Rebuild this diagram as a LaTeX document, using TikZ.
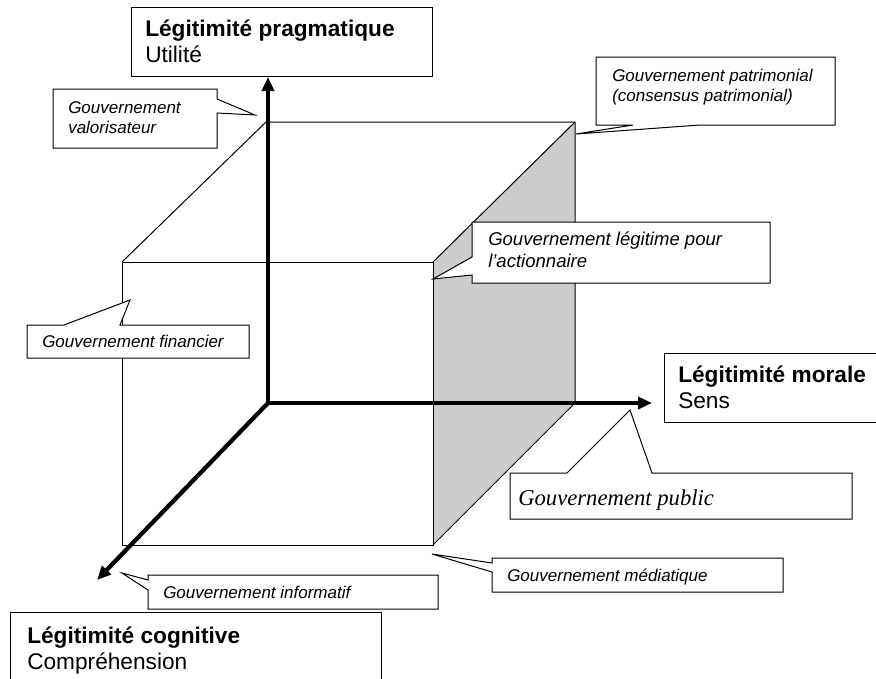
\documentclass[tikz,border=0pt]{standalone}
\usepackage{fontspec}
\setmainfont{Liberation Sans}
\newfontfamily\timesit{Liberation Serif}
\usetikzlibrary{arrows.meta}
\definecolor{facegray}{RGB}{204,204,204}
\tikzset{
  edge/.style={line width=0.75pt},
  axis/.style={line width=3.2pt},
  tip/.style={-{Triangle[length=10.5pt,width=9pt]}},
  bubble/.style={draw,line width=0.75pt,fill=white},
  comment/.style={anchor=north west,inner sep=0pt,align=left,font=\fontsize{12.75}{15}\selectfont\itshape},
  title/.style={anchor=north west,inner sep=0pt,align=left,font=\fontsize{17}{19.5}\selectfont}
}
\begin{document}
\begin{tikzpicture}[x=0.75pt,y=-0.75pt]
  \useasboundingbox (0,0) rectangle (876,679);
  % cube corners
  \coordinate (f1) at (122,262);
  \coordinate (f2) at (433,262);
  \coordinate (f3) at (433,545);
  \coordinate (f4) at (122,545);
  \coordinate (b1) at (266,122);
  \coordinate (b2) at (575,122);
  \coordinate (b3) at (575,403);
  % axes
  \coordinate (o) at (268,403);
  \coordinate (yend) at (268,77);
  \coordinate (xend) at (652,403);
  \coordinate (zend) at (97,580);
  % right face
  \fill[facegray] (f2) -- (b2) -- (b3) -- (f3) -- cycle;
  % cube edges
  \draw[edge] (f1) -- (f2) -- (f3) -- (f4) -- cycle;
  \draw[edge] (f1) -- (b1) -- (b2) -- (b3);
  \draw[edge] (f2) -- (b2);
  \draw[edge] (f3) -- (b3);
  % thick axes
  \draw[axis,{Triangle[length=10.5pt,width=9pt]}-{Triangle[length=10.5pt,width=9pt]}] (yend) -- (o) -- (xend);
  \draw[axis,tip] (o) -- (zend);
  % title boxes
  \draw[edge,fill=white] (131,7) rectangle (432,76);
  \draw[edge,fill=white] (664,353) rectangle (880,422);
  \draw[edge,fill=white] (10,612) rectangle (381,690);
  \node[title] (prag) at (145,20) {\textbf{Légitimité pragmatique}\\Utilité};
  \node[title] (moral) at (678,366) {\textbf{Légitimité morale}\\Sens};
  \node[title] (cogn) at (27,627) {\textbf{Légitimité cognitive}\\Compréhension};
  % callouts
  % valorisateur
  \draw[bubble] (53,89) -- (217,89) -- (217,99) -- (255,115) -- (217,113) -- (217,148) -- (53,148) -- cycle;
  \node[comment] (valo) at (68,101) {Gouvernement\\valorisateur};
  % patrimonial
  \draw[bubble] (596,57) -- (835,57) -- (835,125) -- (700,125) -- (576,134) -- (633,125) -- (596,125) -- cycle;
  \node[comment] (patri) at (612,69) {Gouvernement patrimonial\\(consensus patrimonial)};
  % actionnaire
  \draw[bubble] (472,222) -- (770,222) -- (770,283) -- (472,283) -- (472,275) -- (433,279) -- (472,257) -- cycle;
  \node[comment,font=\fontsize{13.9}{16.5}\selectfont\itshape] (action) at (488,232) {Gouvernement légitime pour\\l’actionnaire};
  % financier
  \draw[bubble] (27,325) -- (64,325) -- (130,300) -- (120,325) -- (249,325) -- (249,358) -- (27,358) -- cycle;
  \node[comment] (finan) at (42,335) {Gouvernement financier};
  % public
  \draw[bubble] (510,473) -- (567,473) -- (630,410) -- (652,473) -- (852,473) -- (852,519) -- (510,519) -- cycle;
  \node[comment,font=\timesit\fontsize{17}{20}\selectfont\itshape] (publ) at (518,489) {Gouvernement public};
  % mediatique
  \draw[bubble] (492,558) -- (783,558) -- (783,592) -- (492,592) -- (492,572) -- (432,554) -- (492,563) -- cycle;
  \node[comment] (media) at (507,569) {Gouvernement médiatique};
  % informatif
  \draw[bubble] (148,575) -- (438,575) -- (438,609) -- (148,609) -- (148,590) -- (122,573) -- (148,580) -- cycle;
  \node[comment] (info) at (163,586) {Gouvernement informatif};
\end{tikzpicture}
\end{document}
